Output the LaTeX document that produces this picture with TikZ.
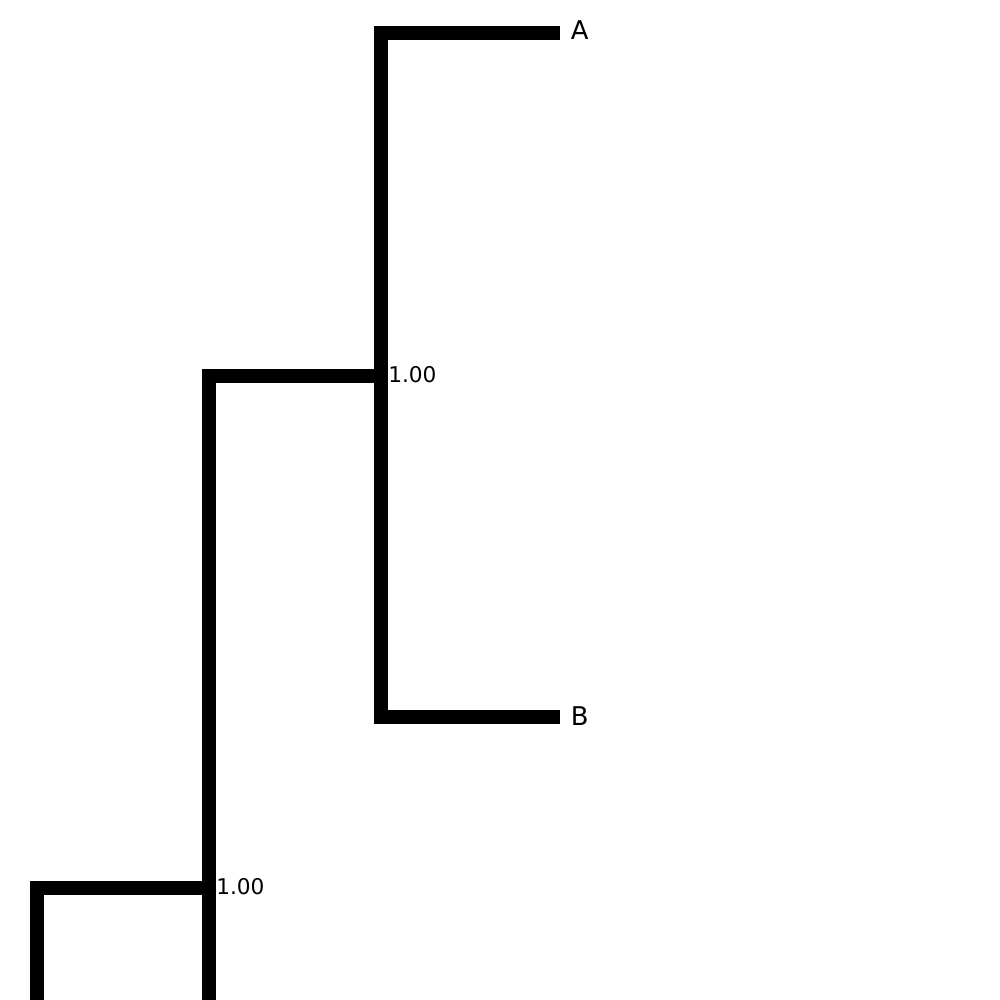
\documentclass[tikz,border=0pt]{standalone}
\usepackage{fontspec}
\setmainfont{DejaVu Sans}
\begin{document}
\begin{tikzpicture}[x=0.72pt,y=-0.72pt,
  branch/.style={line width=9.4pt,line cap=butt,line join=miter,draw=black},
  leaflabel/.style={anchor=base west,inner sep=0pt,font=\fontsize{18.6}{21}\selectfont},
  conf/.style={anchor=base west,inner sep=0pt,font=\fontsize{15.6}{18}\selectfont}]
\useasboundingbox (0,0) rectangle (1000,1000);
\clip (0,0) rectangle (1000,1000);
\coordinate (leafA) at (560,33);
\coordinate (leafB) at (560,717);
\coordinate (n1) at (381,376);
\coordinate (n2) at (209,888);
\coordinate (bot2) at (209,1020);
\coordinate (bot3) at (37,1020);
\draw[branch] (leafA) -| (n1) |- (leafB);
\draw[branch] (n1) -| (bot2);
\draw[branch] (n2) -| (bot3);
\node[leaflabel] (labA) at (570.5,40) {A};
\node[leaflabel] (labB) at (570.5,725.5) {B};
\node[conf] (c1) at (388,382) {1.00};
\node[conf] (c2) at (216,894) {1.00};
\end{tikzpicture}
\end{document}
